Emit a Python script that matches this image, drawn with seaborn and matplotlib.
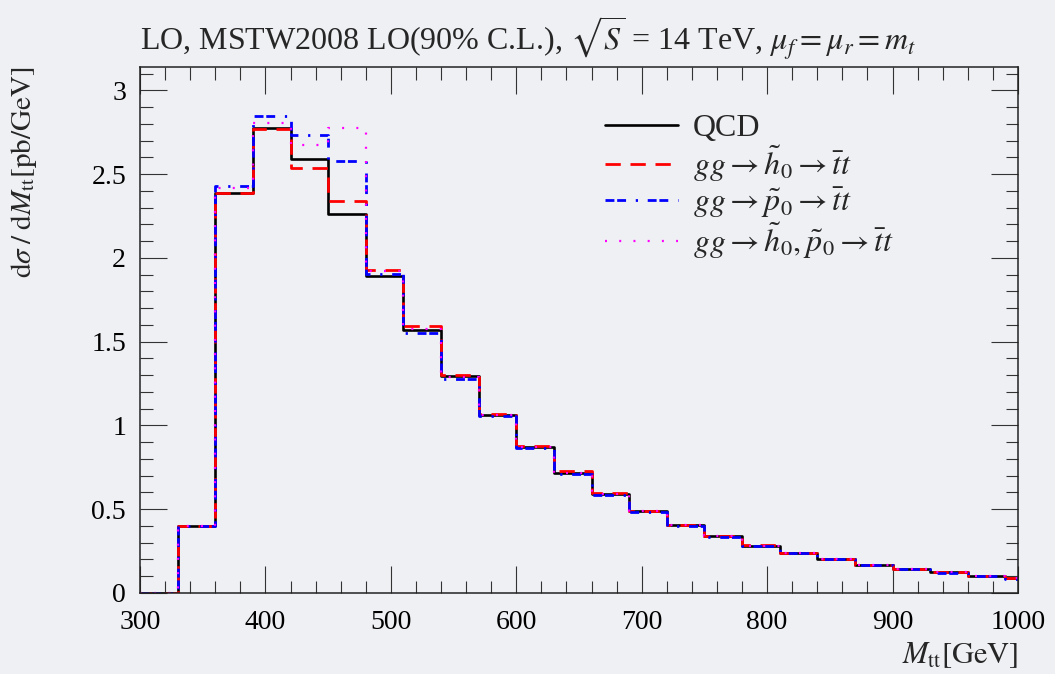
import numpy as np
import pandas as pd
import matplotlib
matplotlib.use("Agg")
import matplotlib.pyplot as plt
from matplotlib.ticker import MultipleLocator
import seaborn as sns

# Bin edges of the M_tt histogram (GeV), 30 GeV bins
bin_edges = [300, 330, 360, 390, 420, 450, 480, 510, 540, 570, 600, 630, 660,
             690, 720, 750, 780, 810, 840, 870, 900, 930, 960, 990, 1020]

# dsigma/dM_tt per bin [pb/GeV]
qcd = [0.0, 0.40, 2.39, 2.775, 2.59, 2.26, 1.89, 1.568, 1.294, 1.061, 0.869,
       0.717, 0.590, 0.487, 0.404, 0.339, 0.283, 0.240, 0.203, 0.169, 0.145,
       0.123, 0.101, 0.089]
h0 = [0.0, 0.40, 2.39, 2.767, 2.536, 2.343, 1.93, 1.592, 1.300, 1.069, 0.880,
      0.727, 0.594, 0.489, 0.406, 0.340, 0.284, 0.241, 0.204, 0.170, 0.146,
      0.124, 0.102, 0.090]
p0 = [0.0, 0.40, 2.43, 2.85, 2.733, 2.576, 1.906, 1.552, 1.276, 1.055, 0.865,
      0.708, 0.586, 0.484, 0.401, 0.336, 0.281, 0.238, 0.201, 0.167, 0.143,
      0.121, 0.100, 0.086]
h0p0 = [0.0, 0.40, 2.42, 2.807, 2.677, 2.775, 1.92, 1.575, 1.290, 1.062, 0.872,
        0.718, 0.590, 0.487, 0.404, 0.339, 0.283, 0.240, 0.203, 0.169, 0.145,
        0.123, 0.101, 0.089]

labels = ["QCD",
          r"$gg \rightarrow \tilde{h}_0 \rightarrow \bar{t}t$",
          r"$gg \rightarrow \tilde{p}_0 \rightarrow \bar{t}t$",
          r"$gg \rightarrow \tilde{h}_0, \tilde{p}_0 \rightarrow \bar{t}t$"]

bg = "#eff0f4"
sns.set_theme(style="ticks")
plt.rcParams["font.family"] = ["Liberation Serif", "DejaVu Serif"]
plt.rcParams["mathtext.fontset"] = "stix"

fig = plt.figure(figsize=(10.55, 6.74), dpi=100, facecolor=bg)
ax = fig.add_axes([0.1327, 0.1202, 0.8322, 0.7804])
ax.set_facecolor(bg)

styles = [
    dict(color="black", lw=1.9, dashes=""),
    dict(color="#ff0000", lw=2.0, dashes=(5.5, 3.5)),
    dict(color="#0000ff", lw=2.0, dashes=(3.2, 1.0, 3.2, 3.5, 0.8, 3.5)),
    dict(color="#ff00ff", lw=1.6, dashes=(0.9, 5.5)),
]

for vals, lab, st in zip([qcd, h0, p0, h0p0], labels, styles):
    df = pd.DataFrame({"x": bin_edges, "y": list(vals) + [vals[-1]]})
    sns.lineplot(data=df, x="x", y="y", ax=ax, drawstyle="steps-post",
                 estimator=None, sort=False, label=lab,
                 color=st["color"], linewidth=st["lw"])
    ln = ax.get_lines()[-1]
    if st["dashes"]:
        ln.set_dashes(st["dashes"])
        ln.set_dash_capstyle("butt")

ax.set_xlim(300, 1000)
ax.set_ylim(0, 3.14)
ax.xaxis.set_major_locator(MultipleLocator(100))
ax.xaxis.set_minor_locator(MultipleLocator(20))
ax.yaxis.set_major_locator(MultipleLocator(0.5))
ax.yaxis.set_minor_locator(MultipleLocator(0.1))
ax.yaxis.set_major_formatter(matplotlib.ticker.FuncFormatter(
    lambda v, p: f"{v:g}"))
ax.tick_params(which="both", direction="in", top=True, right=True,
               colors="#333333", labelcolor="black", labelsize=20)
ax.tick_params(which="major", length=19.5, width=0.8)
ax.tick_params(axis="x", which="major", pad=12)
ax.tick_params(axis="y", which="major", pad=10)
ax.tick_params(which="minor", length=9, width=0.8)
for s in ax.spines.values():
    s.set_linewidth(1.1)
    s.set_color("#222222")

ax.set_xlabel(r"$M_{\mathrm{tt}}[\mathrm{GeV}]$", fontsize=22, loc="right",
              labelpad=4)
ax.set_ylabel(r"$\mathrm{d}\sigma\;/\;\mathrm{d}M_{\mathrm{tt}}[\mathrm{pb/GeV}]$",
              fontsize=21, loc="top")
ax.yaxis.set_label_coords(-0.115, 1.0)
ax.set_title(r"LO, MSTW2008 LO(90% C.L.), $\sqrt{S}$ = 14 TeV, "
             r"$\mu_f = \mu_r = m_t$", fontsize=23, loc="left", pad=12)

leg = ax.legend(loc="upper left", bbox_to_anchor=(0.515, 0.935), frameon=False,
                fontsize=23, handlelength=2.3, handletextpad=0.45,
                labelspacing=0.02, borderaxespad=0)

fig.savefig("out.png", dpi=100, facecolor=bg)
